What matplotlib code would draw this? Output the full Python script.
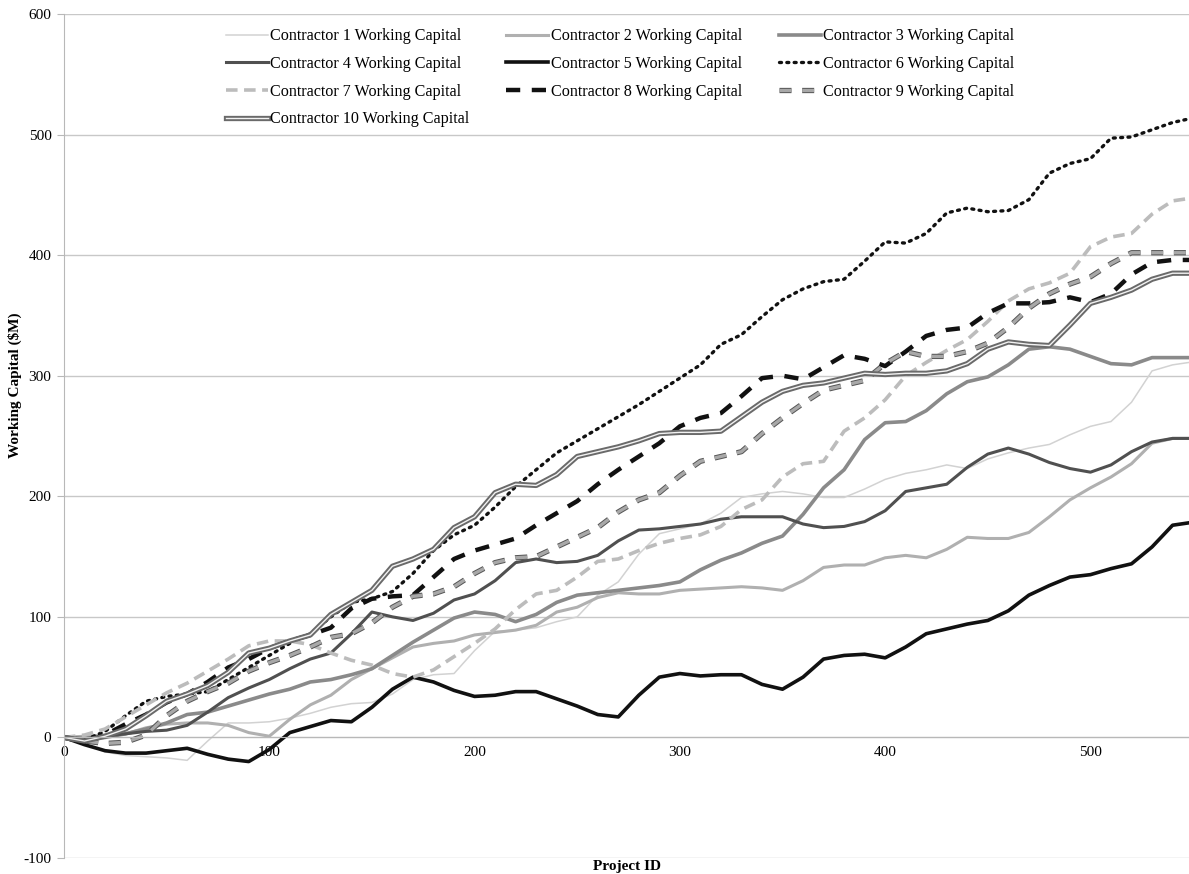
import numpy as np
import matplotlib
matplotlib.use('Agg')
import matplotlib.pyplot as plt
import matplotlib.patheffects as pe

plt.rcParams['font.family'] = ['Liberation Serif', 'DejaVu Serif']
plt.rcParams['axes.unicode_minus'] = False

# project id grid (read every 10 projects)
project_id = list(range(0, 550, 10)) + [548]

# working capital ($M) per contractor
c1 = [0, -5, -12, -15, -16, -17, -19, -3, 12, 12, 13, 16, 20, 25, 28, 29, 36, 48, 52, 53,
      72, 88, 89, 91, 96, 100, 118, 129, 152, 169, 173, 177, 186, 199, 202, 204, 202, 199,
      199, 206, 214, 219, 222, 226, 223, 231, 236, 240, 243, 251, 258, 262, 278, 304, 309, 311]
c2 = [0, 1, 2, 3, 8, 11, 12, 12, 10, 4, 1, 15, 27, 35, 48, 57, 66, 75, 78, 80,
      85, 87, 89, 93, 104, 108, 116, 120, 119, 119, 122, 123, 124, 125, 124, 122, 130, 141,
      143, 143, 149, 151, 149, 156, 166, 165, 165, 170, 183, 197, 207, 216, 227, 244, 248, 248]
c3 = [0, -1, 0, 3, 7, 12, 19, 21, 26, 31, 36, 40, 46, 48, 52, 57, 68, 79, 89, 99,
      104, 102, 96, 102, 112, 118, 120, 122, 124, 126, 129, 139, 147, 153, 161, 167, 185, 207,
      222, 247, 261, 262, 271, 285, 295, 299, 309, 322, 324, 322, 316, 310, 309, 315, 315, 315]
c4 = [0, -1, 1, 3, 5, 6, 10, 21, 33, 41, 48, 57, 65, 70, 86, 104, 100, 97, 103, 114,
      119, 130, 145, 148, 145, 146, 151, 163, 172, 173, 175, 177, 181, 183, 183, 183, 177, 174,
      175, 179, 188, 204, 207, 210, 224, 235, 240, 235, 228, 223, 220, 226, 237, 245, 248, 248]
c5 = [0, -6, -11, -13, -13, -11, -9, -14, -18, -20, -10, 4, 9, 14, 13, 25, 40, 50, 46, 39,
      34, 35, 38, 38, 32, 26, 19, 17, 35, 50, 53, 51, 52, 52, 44, 40, 50, 65,
      68, 69, 66, 75, 86, 90, 94, 97, 105, 118, 126, 133, 135, 140, 144, 158, 176, 178]
c6 = [0, -2, 5, 18, 30, 34, 36, 38, 48, 58, 68, 78, 86, 100, 112, 115, 121, 136, 155, 168,
      176, 191, 208, 222, 236, 246, 256, 266, 276, 287, 298, 309, 326, 334, 349, 363, 372, 378,
      380, 395, 411, 410, 418, 435, 439, 436, 437, 446, 468, 476, 480, 497, 498, 504, 510, 513]
c7 = [0, 2, 7, 17, 27, 37, 45, 55, 65, 76, 80, 80, 77, 70, 64, 60, 53, 50, 56, 67,
      78, 90, 106, 119, 122, 133, 146, 148, 155, 161, 165, 168, 175, 189, 197, 216, 227, 229,
      254, 265, 280, 300, 311, 321, 330, 345, 362, 372, 377, 385, 407, 415, 418, 434, 445, 447]
c8 = [0, -4, 2, 11, 19, 29, 36, 46, 58, 65, 74, 80, 85, 91, 107, 115, 117, 118, 133, 148,
      155, 160, 165, 176, 186, 196, 210, 222, 233, 244, 258, 265, 269, 283, 298, 300, 297, 307,
      317, 314, 308, 320, 333, 338, 340, 352, 360, 360, 361, 365, 361, 368, 384, 394, 396, 396]
c9 = [0, -3, -5, -4, 2, 18, 30, 38, 45, 55, 62, 68, 75, 83, 86, 95, 108, 117, 119, 125,
      136, 145, 149, 150, 158, 166, 174, 187, 197, 203, 217, 229, 233, 237, 252, 265, 277, 288,
      292, 296, 310, 320, 316, 316, 320, 327, 340, 356, 368, 376, 382, 393, 402, 402, 402, 402]
c10 = [0, -3, 1, 7, 18, 30, 36, 43, 54, 70, 74, 80, 85, 102, 112, 122, 142, 148, 156, 174,
       183, 203, 210, 209, 218, 233, 237, 241, 246, 252, 253, 253, 254, 266, 278, 287, 292, 294,
       298, 302, 301, 302, 302, 304, 310, 322, 328, 326, 325, 342, 360, 365, 371, 380, 385, 385]

series = [c1, c2, c3, c4, c5, c6, c7, c8, c9, c10]
labels = ['Contractor %d Working Capital' % (i + 1) for i in range(10)]

styles = [
    dict(color='#d2d2d2', lw=1.1),
    dict(color='#b0b0b0', lw=2.2),
    dict(color='#8a8a8a', lw=2.6),
    dict(color='#505050', lw=2.2),
    dict(color='#111111', lw=2.6),
    dict(color='#111111', lw=2.4, ls=(0, (0.6, 1.6)), dash_capstyle='round'),
    dict(color='#bcbcbc', lw=2.6, ls=(0, (3.2, 1.8))),
    dict(color='#111111', lw=3.2, ls=(0, (3.2, 2.6))),
    dict(color='#a8a8a8', lw=2.4, ls=(0, (3.6, 3.2)),
         path_effects=[pe.Stroke(linewidth=3.8, foreground='#555555'), pe.Normal()]),
    dict(color='#f2f2f2', lw=1.0,
         path_effects=[pe.Stroke(linewidth=3.8, foreground='#6a6a6a'), pe.Normal()]),
]

fig = plt.figure(figsize=(11.89, 8.74), dpi=100)
ax = fig.add_axes([0.0538, 0.0183, 0.9462, 0.9657])

handles = []
for y, lab, st in zip(series, labels, styles):
    h, = ax.plot(project_id, y, label=lab, **st)
    handles.append(h)

ax.set_xlim(0, 548)
ax.set_ylim(-100, 600)
ax.set_yticks(np.arange(-100, 601, 100))
ax.set_xticks(np.arange(0, 501, 100))
ax.grid(axis='y', color='#c8c8c8', lw=1.0)
ax.set_axisbelow(True)

for s in ['top', 'right']:
    ax.spines[s].set_visible(False)
ax.spines['left'].set_color('#b8b8b8')
ax.spines['bottom'].set_color('#b8b8b8')
ax.spines['bottom'].set_position(('data', 0))
ax.tick_params(axis='y', length=5, color='#b8b8b8', labelsize=11, pad=4)
ax.tick_params(axis='x', length=0, labelsize=11, pad=6)

ax.set_ylabel('Working Capital (\\$M)', fontsize=11, fontweight='bold')
ax.yaxis.set_label_coords(-0.037, 0.56)
fig.text(0.527, 0.009, 'Project ID', ha='center', va='center',
         fontsize=11, fontweight='bold')

# legend is read row by row in the original, matplotlib fills by column
order = [0, 3, 6, 9, 1, 4, 7, 2, 5, 8]
ax.legend([handles[i] for i in order], [labels[i] for i in order],
          ncol=3, frameon=False, fontsize=11.6, handlelength=2.6,
          handletextpad=0.15, columnspacing=2.3, labelspacing=0.72,
          loc='upper left', bbox_to_anchor=(0.131, 1.0))

fig.savefig('out.png', dpi=100)
